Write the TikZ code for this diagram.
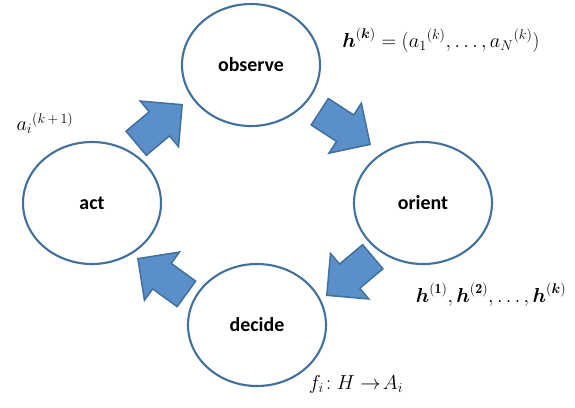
\documentclass[tikz,border=0pt]{standalone}
\usepackage{amsmath,amssymb,fontspec}
\usetikzlibrary{positioning,shapes.geometric,shapes.arrows}
\newfontfamily\calibri{Carlito}
\definecolor{edgeblue}{RGB}{65,113,156}
\definecolor{fillblue}{RGB}{91,143,201}
\tikzset{
  phase/.style={draw=edgeblue,ellipse,line width=1.8pt,fill=white,minimum width=4.14cm,minimum height=3.66cm,font=\calibri\bfseries\fontsize{17}{20}\selectfont},
  barrow/.style={single arrow,draw=edgeblue,fill=fillblue,line width=1.3pt,minimum height=1.8cm,inner xsep=0pt,inner ysep=0.45cm,single arrow head extend=0.42cm,anchor=tip},
  lbl/.style={font=\fontsize{17}{20}\selectfont,inner sep=0pt}
}
\begin{document}
\begin{tikzpicture}[x=0.03cm,y=-0.03cm]
  \useasboundingbox (0,0) rectangle (575,407);
  % Phase ellipses
  \node[phase] (obs) at (251,65) {observe};
  \node[phase] (ori) at (423,203) {orient};
  \node[phase] (dec) at (257,325) {decide};
  \node[phase] (act) at (92,203) {act};

  % Block arrows
  \node[barrow, rotate=40] (act2obs) at (183,104) {};
  \node[barrow, rotate=-33] (obs2ori) at (371,145) {};
  \node[barrow, rotate=220] (ori2dec) at (326,296) {};
  \node[barrow, rotate=144] (dec2act) at (137,258) {};

  % Labels
  \node[lbl] (lbl_hk) at (441,40) {$\boldsymbol{h}^{(\boldsymbol{k})} = ({a_1}^{(k)}, \ldots, {a_N}^{(k)})$};
  \node[lbl] (lbl_hall) at (491,295) {$\boldsymbol{h}^{(\mathbf{1})}, \boldsymbol{h}^{(\mathbf{2})}{,}\ldots{,}\, \boldsymbol{h}^{(\boldsymbol{k})}$};
  \node[lbl] (lbl_f) at (356,384) {$f_i\!: H \rightarrow\! A_i$};
  \node[lbl] (lbl_a) at (45,123) {${a_i}^{(k\,+\,1)}$};
\end{tikzpicture}
\end{document}
